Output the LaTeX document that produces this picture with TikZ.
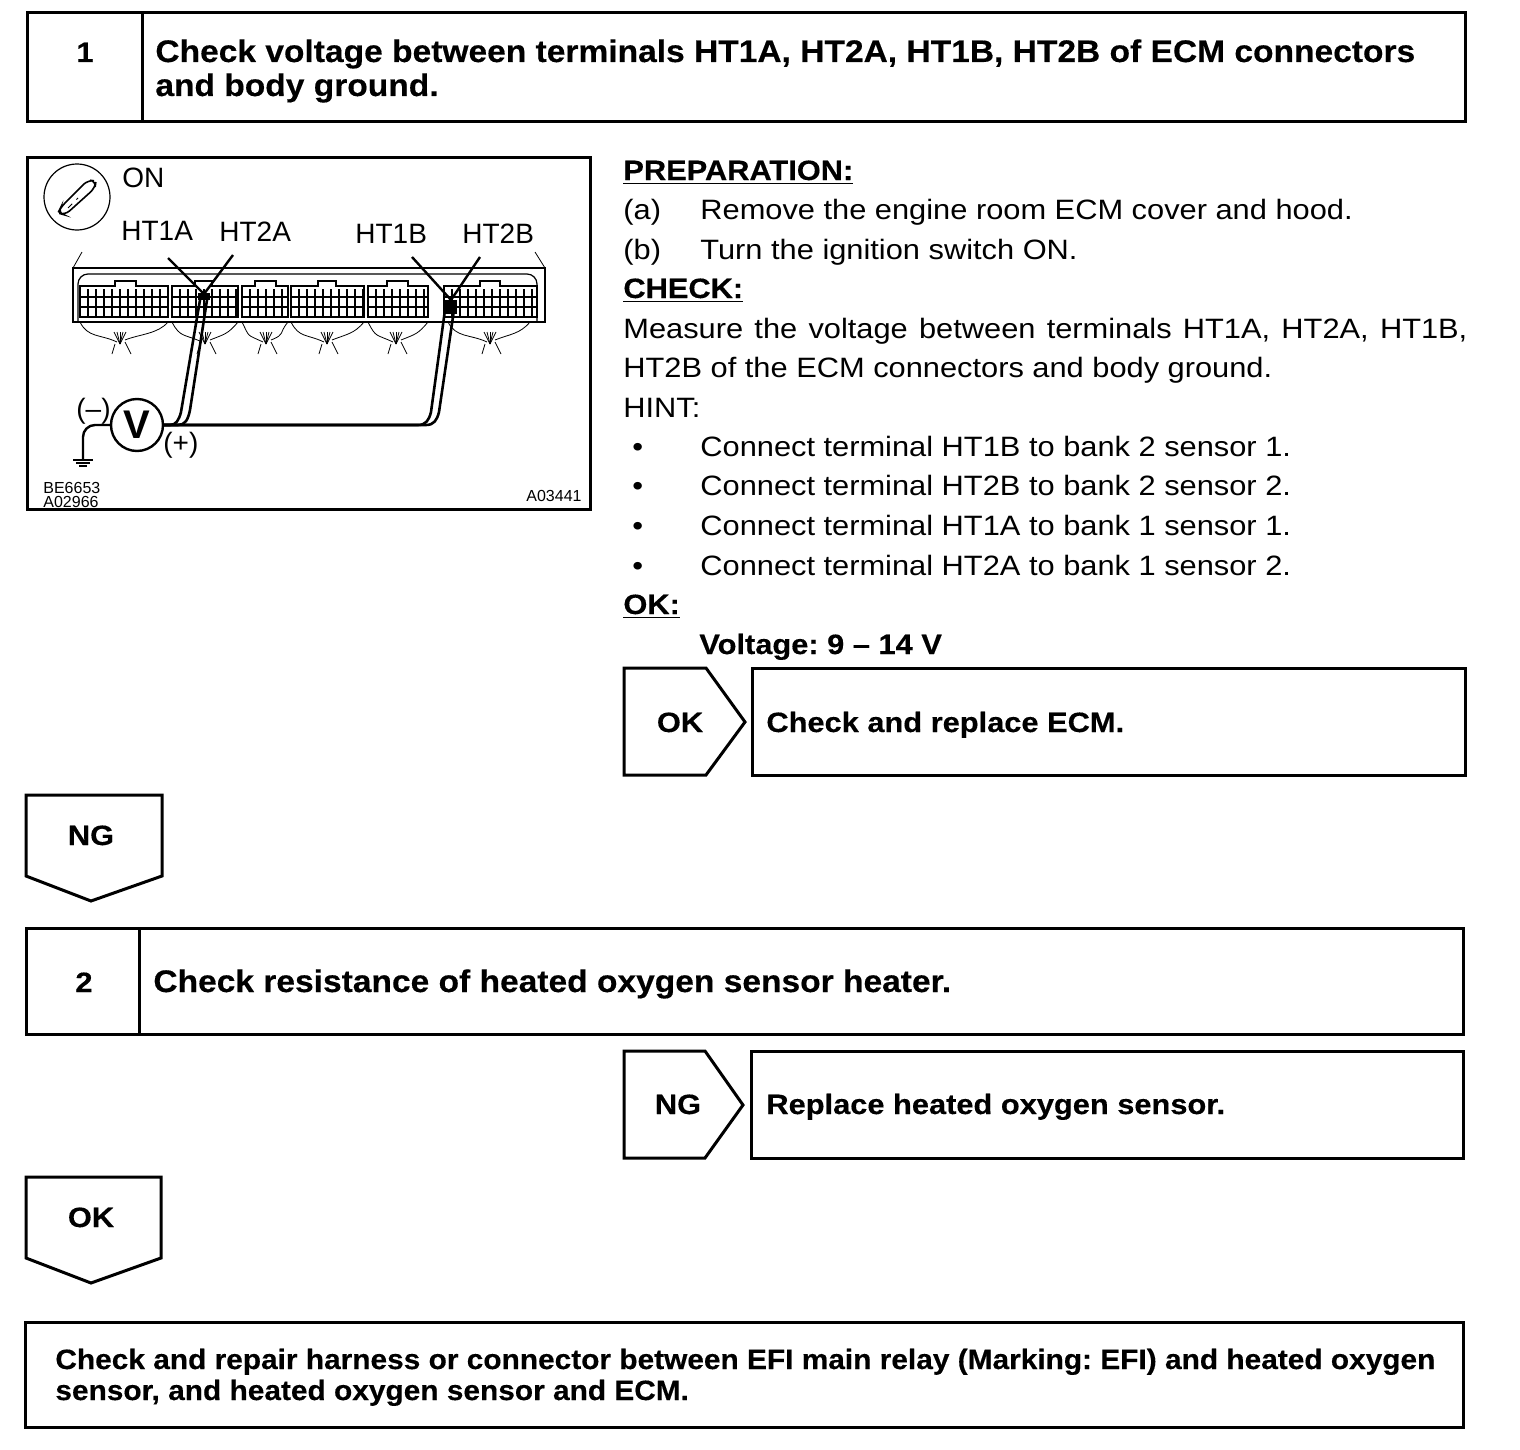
\documentclass[tikz,border=0pt]{standalone}
\usepackage{fontspec}
\setmainfont{Liberation Sans}
\usetikzlibrary{calc,positioning}
\newfontfamily\bodyface[FakeStretch=1.10]{Liberation Sans}
\newfontfamily\boldface[FakeStretch=1.10,FakeBold=0.35]{Liberation Sans Bold}
\newfontfamily\headface[FakeStretch=1.075,FakeBold=0.35]{Liberation Sans Bold}
\newfontfamily\lastface[FakeStretch=1.066,FakeBold=0.35]{Liberation Sans Bold}
\newcommand{\bodyfont}{\fontsize{14}{19}\bodyface}
\newcommand{\boldfont}{\fontsize{14}{19}\boldface}
\newcommand{\headfont}{\fontsize{15.6}{19}\headface}
\newcommand{\lastfont}{\fontsize{14}{19}\lastface}
\newcommand{\labelfont}{\fontsize{14}{19}\selectfont}
\newcommand{\smallfont}{\fontsize{8}{9}\selectfont}
% one ECM plug: left, right, left and right of the key
\newcommand{\ecmplug}[4]{
  \draw[plugline] (#1,317) -- (#1,286) -- (#3,286) -- (#3,281) -- (#4,281) -- (#4,286) -- (#2,286) -- (#2,317) -- cycle;
  \draw[gridline] (#1,297) -- (#2,297) (#1,307) -- (#2,307);
  \pgfmathsetmacro{\xfirst}{#1+8}
  \pgfmathsetmacro{\xsecond}{#1+16}
  \foreach \xg in {\xfirst,\xsecond,...,#2}
    \draw[gridline] (\xg,289) -- (\xg,316);
  \draw[heavyline] (#1,317) -- (#2,317);
}
% the wires under a plug
\newcommand{\ecmwires}[3]{
  \draw[thinline] (#1,322) .. controls (#1+8,338) and (#2-20,334) .. (#2-3,342);
  \draw[thinline] (#3,322) .. controls (#3-10,334) and (#2+20,334) .. (#2+5,340);
  \foreach \dx in {-6,-3,0,3,6}
    \draw[thinline] (#2,344) -- (#2+\dx,332);
  \draw[thinline] (#2-5,344) -- (#2-8,354) (#2+5,342) -- (#2+11,354);
}
\tikzset{
  boxline/.style={draw,line width=1.5pt},
  plugline/.style={draw,line width=1.1pt},
  gridline/.style={draw,line width=0.8pt},
  heavyline/.style={draw,line width=1.2pt},
  thinline/.style={draw,line width=0.4pt},
  wireline/.style={draw,line width=1.3pt},
  bodytext/.style={anchor=base west,inner sep=0pt,font=\bodyfont},
  labeltext/.style={anchor=base west,inner sep=0pt,font=\labelfont},
  headtext/.style={anchor=base west,inner sep=0pt,font=\headfont},
  boldtext/.style={anchor=base west,inner sep=0pt,font=\boldfont},
  lasttext/.style={anchor=base west,inner sep=0pt,font=\lastfont},
  midtext/.style={anchor=base,inner sep=0pt,font=\boldfont},
  smalltext/.style={anchor=base west,inner sep=0pt,font=\smallfont},
}
\begin{document}
\frenchspacing
\begin{tikzpicture}[x=0.5pt,y=-0.5pt]
  \useasboundingbox (0,0) rectangle (1520,1450);
  % step 1
  \draw[boxline] (27,13) rectangle (1465,122);
  \draw[boxline] (142,13) -- (142,122);
  \node[midtext] (stepone) at (85,62) {1};
  \node[headtext] (titleone) at (155,62) {Check voltage between terminals HT1A, HT2A, HT1B, HT2B of ECM connectors};
  \node[headtext] (titleoneb) at (155,96) {and body ground.};
  % figure
  \draw[boxline] (27,157) rectangle (590,509);
  \node[draw,circle,line width=0.6pt,minimum size=33pt,inner sep=0pt] (keyring) at (77,197) {};
  \draw[thinline,line width=0.8pt,rounded corners=3pt] (61,207) -- (88,180) -- (96,181) -- (95,188) -- (65,215) -- (58,213) -- cycle;
  \draw[thinline,dashed] (68,208) -- (78,198);
  \node[labeltext] (onlabel) at (122,187) {ON};
  \node[labeltext] (htonea) at (121,240) {HT1A};
  \node[labeltext] (httwoa) at (219,241) {HT2A};
  \node[labeltext] (htoneb) at (355,243) {HT1B};
  \node[labeltext] (httwob) at (462,243) {HT2B};
  % ECM
  \draw[thinline,line width=0.6pt] (73,322) -- (73,268) -- (545,268) -- (545,322) -- cycle;
  \draw[thinline,line width=0.6pt,rounded corners=5pt] (78,322) -- (78,274) -- (537,274) -- (537,322);
  \draw[thinline] (73,268) -- (82,252) (545,268) -- (535,252);
  \ecmplug{80}{168}{115}{136}
  \ecmplug{172}{238}{195}{212}
  \ecmplug{242}{288}{255}{276}
  \ecmplug{291}{364}{318}{336}
  \ecmplug{368}{428}{387}{408}
  \ecmplug{444}{537}{480}{500}
  \ecmwires{80}{120}{168}
  \ecmwires{172}{205}{238}
  \ecmwires{242}{266}{288}
  \ecmwires{291}{327}{364}
  \ecmwires{368}{396}{428}
  \ecmwires{448}{490}{530}
  % leaders
  \coordinate (tipa) at (204,294);
  \coordinate (tipb) at (451,300);
  \draw[heavyline] (168,258) -- (tipa);
  \draw[heavyline] (233,255) -- (tipa);
  \draw[heavyline] (412,257) -- (tipb);
  \draw[heavyline] (480,257) -- (tipb);
  \fill (198,293) rectangle (210,300);
  \fill (443,300) rectangle (457,314);
  % meter
  \node[draw,circle,line width=1.2pt,minimum size=26pt,inner sep=0pt,font=\fontsize{20}{20}\selectfont\bfseries] (meter) at (137,425) {V};
  \coordinate (gnd) at (83,460);
  \draw[heavyline,rounded corners=6pt] (meter.west) -- (83,425) -- (gnd);
  \draw[thinline,line width=0.8pt] (73,460) -- (93,460) (76,463) -- (90,463) (79,466) -- (87,466);
  \draw[wireline] (meter.east) -- (170,425) .. controls (176,425) and (179,420) .. (181,412) -- (200,300);
  \draw[wireline] (meter.east) -- (178,425) .. controls (185,425) and (188,420) .. (190,410) -- (207,300);
  \draw[wireline] (meter.east) -- (418,425) .. controls (426,425) and (429,420) .. (431,412) -- (445,310);
  \draw[wireline] (meter.east) -- (426,425) .. controls (434,425) and (437,420) .. (439,412) -- (454,310);
  \node[labeltext] (minuslabel) at (76,418) {(–)};
  \node[labeltext] (pluslabel) at (163,452) {(+)};
  \node[smalltext] (codea) at (43,493) {BE6653};
  \node[smalltext] (codeb) at (43,507) {A02966};
  \node[smalltext] (codec) at (526,501) {A03441};
  % right column
  \node[boldtext] (prep) at (623,180) {\underline{PREPARATION:}};
  \node[bodytext] (itema) at (623,219) {(a)};
  \node[bodytext] (itemat) at (700,219) {Remove the engine room ECM cover and hood.};
  \node[bodytext] (itemb) at (623,259) {(b)};
  \node[bodytext] (itembt) at (700,259) {Turn the ignition switch ON.};
  \node[boldtext] (check) at (623,298) {\underline{CHECK:}};
  \node[bodytext] (measure) at (623,338) {\makebox[422pt][s]{Measure the voltage between terminals HT1A, HT2A, HT1B,}};
  \node[bodytext] (measureb) at (623,377) {HT2B of the ECM connectors and body ground.};
  \node[bodytext] (hint) at (623,417) {HINT:};
  \foreach \i/\yy/\txt in {1/456/Connect terminal HT1B to bank 2 sensor 1.,2/495/Connect terminal HT2B to bank 2 sensor 2.,3/535/Connect terminal HT1A to bank 1 sensor 1.,4/575/Connect terminal HT2A to bank 1 sensor 2.}{
    \node[bodytext] (bul\i) at (632,\yy) {•};
    \node[bodytext] (hint\i) at (700,\yy) {\txt};
  }
  \node[boldtext] (oklabel) at (623,614) {\underline{OK:}};
  \node[boldtext] (volt) at (699,654) {Voltage: 9 – 14 V};
  % OK branch
  \draw[boxline] (624,668) -- (706,668) -- (745,722) -- (706,775) -- (624,775) -- cycle;
  \node[midtext] (okone) at (680,732) {OK};
  \draw[boxline] (752,668) rectangle (1465,775);
  \node[boldtext] (replace) at (766,732) {Check and replace ECM.};
  % NG
  \draw[boxline] (26,795) -- (162,795) -- (162,876) -- (91,901) -- (26,876) -- cycle;
  \node[midtext] (ngone) at (91,845) {NG};
  % step 2
  \draw[boxline] (26,928) rectangle (1463,1034);
  \draw[boxline] (139,928) -- (139,1034);
  \node[midtext] (steptwo) at (84,992) {2};
  \node[headtext] (titletwo) at (153,992) {Check resistance of heated oxygen sensor heater.};
  \draw[boxline] (624,1051) -- (705,1051) -- (743,1105) -- (705,1158) -- (624,1158) -- cycle;
  \node[midtext] (ngtwo) at (678,1114) {NG};
  \draw[boxline] (751,1051) rectangle (1463,1158);
  \node[boldtext] (sensor) at (766,1114) {Replace heated oxygen sensor.};
  \draw[boxline] (26,1177) -- (161,1177) -- (161,1258) -- (91,1283) -- (26,1258) -- cycle;
  \node[midtext] (oktwo) at (91,1227) {OK};
  % last box
  \draw[boxline] (25,1322) rectangle (1463,1427);
  \node[lasttext] (repair) at (55,1369) {Check and repair harness or connector between EFI main relay (Marking: EFI) and heated oxygen};
  \node[lasttext] (repairb) at (55,1400) {sensor, and heated oxygen sensor and ECM.};
\end{tikzpicture}
\end{document}
